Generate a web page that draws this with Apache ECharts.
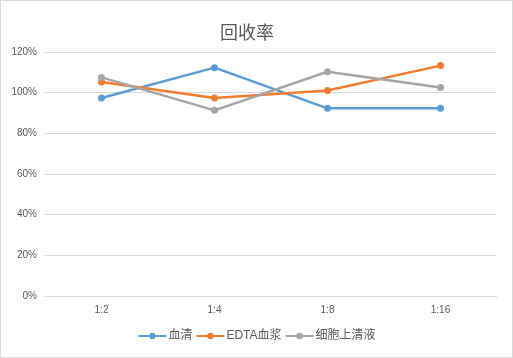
<!DOCTYPE html>
<html><head><meta charset="utf-8">
<script src="https://cdn.jsdelivr.net/npm/echarts@6/dist/echarts.min.js"></script>
<style>html,body{margin:0;padding:0;background:#fff}#c{width:511px;height:356px;border:1px solid #d9d9d9}</style>
</head><body><div id="c"></div>
<script>
var categories = ['1:2','1:4','1:8','1:16'];
var serum = [97.4, 112.3, 92.3, 92.3];
var edta = [105.2, 97.4, 101.1, 113.3];
var supernatant = [107.5, 91.3, 110.3, 102.5];
var seriesNames = ['血清','EDTA血浆','细胞上清液'];
var colors = ['#5B9BD5','#ED7D31','#A5A5A5'];
var font = '"Liberation Sans","Noto Sans CJK SC",sans-serif';
var chart = echarts.init(document.getElementById('c'));
function mk(name, data, color){
  return {name:name,type:'line',data:data,symbol:'circle',symbolSize:7,
    lineStyle:{width:2.5,color:color},itemStyle:{color:color},emphasis:{disabled:true}};
}
chart.setOption({
  animation:false,
  title:{text:'回收率',left:214,top:17,textStyle:{fontFamily:'"Noto Sans CJK SC",sans-serif',fontSize:18,fontWeight:'normal',color:'#595959'}},
  grid:{left:44,right:15,top:51,bottom:61},
  legend:{data:seriesNames,bottom:10,itemWidth:28,itemHeight:8,itemGap:3,
    textStyle:{fontFamily:font,fontSize:12,color:'#595959',padding:[0,0,0,-3]}},
  xAxis:{type:'category',data:categories,boundaryGap:true,
    axisLine:{lineStyle:{color:'#d9d9d9'}},axisTick:{show:false},
    axisLabel:{color:'#595959',fontSize:10,fontFamily:font,margin:9}},
  yAxis:{type:'value',min:0,max:120,interval:20,
    axisLabel:{formatter:'{value}%',color:'#595959',fontSize:10,fontFamily:font,margin:8},
    splitLine:{lineStyle:{color:'#d9d9d9'}},axisLine:{show:false},axisTick:{show:false}},
  series:[mk(seriesNames[0],serum,colors[0]),mk(seriesNames[1],edta,colors[1]),mk(seriesNames[2],supernatant,colors[2])]
});
</script></body></html>
